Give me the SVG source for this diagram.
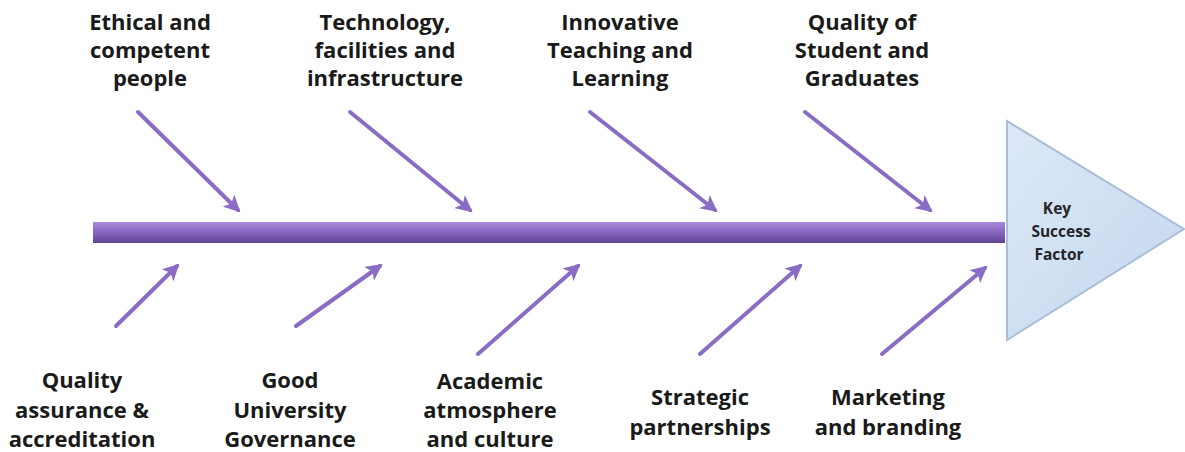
<svg xmlns="http://www.w3.org/2000/svg" width="1185" height="452" viewBox="0 0 1185 452">
  <defs>
    <linearGradient id="spineGrad" x1="0" y1="0" x2="0" y2="1">
      <stop offset="0" stop-color="#a88ad8"/>
      <stop offset="0.45" stop-color="#8a68c4"/>
      <stop offset="1" stop-color="#5e4592"/>
    </linearGradient>
    <linearGradient id="headGrad" x1="0" y1="0" x2="1" y2="1">
      <stop offset="0" stop-color="#dce8f7"/>
      <stop offset="1" stop-color="#c4d7ee"/>
    </linearGradient>
    <marker id="arr" viewBox="0 0 10 10" refX="8" refY="5" markerWidth="4.2" markerHeight="4.2" orient="auto" markerUnits="strokeWidth">
      <path d="M0,0 L10,5 L0,10 L2.5,5 Z" fill="#8a6cc4"/>
    </marker>
  </defs>
  <style>
    .lbl { font-family: "Open Sans", "Liberation Sans", Arial, sans-serif; font-weight: bold; font-size: 22px; fill: #1a1a1a; text-anchor: middle; }
    .key { font-family: "Open Sans", "Liberation Sans", Arial, sans-serif; font-weight: bold; font-size: 15.5px; fill: #262626; text-anchor: middle; }
    .bone { stroke: #8a6cc4; stroke-width: 4; fill: none; stroke-linecap: round; marker-end: url(#arr); }
  </style>
  <rect width="1185" height="452" fill="#ffffff"/>

  <g id="head">
    <polygon points="1007,121 1184,229 1007,340" fill="url(#headGrad)" stroke="#a9bdd8" stroke-width="2"/>
    <text class="key" x="1057" y="214">Key</text>
    <text class="key" x="1061" y="237">Success</text>
    <text class="key" x="1059" y="260">Factor</text>
  </g>

  <g id="spine">
    <rect x="93" y="222" width="912" height="21" fill="url(#spineGrad)"/>
  </g>

  <g id="connectors">
    <line class="bone" x1="138" y1="112" x2="238" y2="210"/>
    <line class="bone" x1="350" y1="112" x2="470" y2="210"/>
    <line class="bone" x1="590" y1="112" x2="715" y2="210"/>
    <line class="bone" x1="805" y1="112" x2="930" y2="210"/>
    <line class="bone" x1="116" y1="326" x2="177" y2="266"/>
    <line class="bone" x1="296" y1="326" x2="380" y2="266"/>
    <line class="bone" x1="478" y1="354" x2="578" y2="266"/>
    <line class="bone" x1="700" y1="354" x2="800" y2="266"/>
    <line class="bone" x1="882" y1="354" x2="985" y2="268"/>
  </g>

  <g id="cause-ethical">
    <text class="lbl" x="150" y="30">Ethical and</text>
    <text class="lbl" x="150" y="58">competent</text>
    <text class="lbl" x="150" y="86">people</text>
  </g>
  <g id="cause-technology">
    <text class="lbl" x="385" y="30">Technology,</text>
    <text class="lbl" x="385" y="58">facilities and</text>
    <text class="lbl" x="385" y="86">infrastructure</text>
  </g>
  <g id="cause-innovative">
    <text class="lbl" x="620" y="30">Innovative</text>
    <text class="lbl" x="620" y="58">Teaching and</text>
    <text class="lbl" x="620" y="86">Learning</text>
  </g>
  <g id="cause-quality-students">
    <text class="lbl" x="862" y="30">Quality of</text>
    <text class="lbl" x="862" y="58">Student and</text>
    <text class="lbl" x="862" y="86">Graduates</text>
  </g>

  <g id="cause-qa">
    <text class="lbl" x="82" y="388">Quality</text>
    <text class="lbl" x="82" y="418">assurance &amp;</text>
    <text class="lbl" x="82" y="447">accreditation</text>
  </g>
  <g id="cause-governance">
    <text class="lbl" x="290" y="388">Good</text>
    <text class="lbl" x="290" y="418">University</text>
    <text class="lbl" x="290" y="447">Governance</text>
  </g>
  <g id="cause-academic">
    <text class="lbl" x="490" y="389">Academic</text>
    <text class="lbl" x="490" y="418">atmosphere</text>
    <text class="lbl" x="490" y="447">and culture</text>
  </g>
  <g id="cause-strategic">
    <text class="lbl" x="700" y="405">Strategic</text>
    <text class="lbl" x="700" y="435">partnerships</text>
  </g>
  <g id="cause-marketing">
    <text class="lbl" x="888" y="405">Marketing</text>
    <text class="lbl" x="888" y="435">and branding</text>
  </g>
</svg>
